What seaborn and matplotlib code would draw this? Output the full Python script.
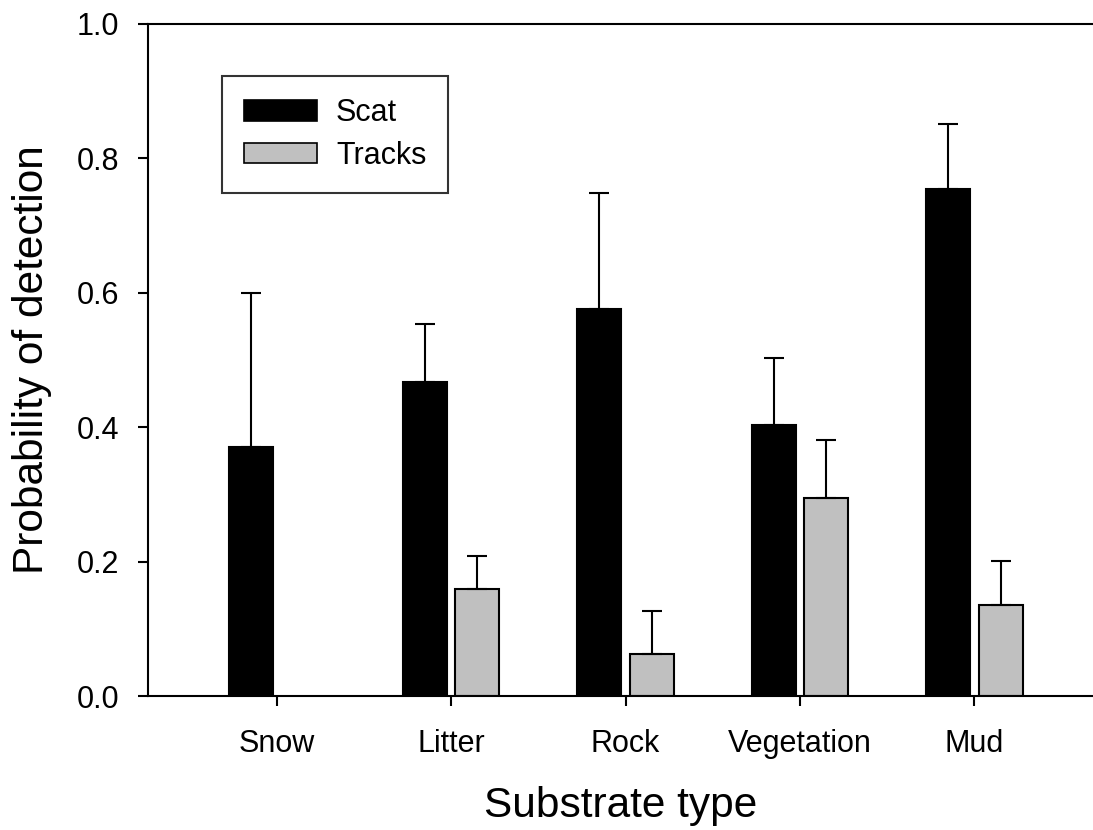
import numpy as np
import pandas as pd
import matplotlib
matplotlib.use("Agg")
import matplotlib.pyplot as plt
from matplotlib.patches import Patch
from matplotlib.container import BarContainer
import seaborn as sns

# values
substrates = ["Snow", "Litter", "Rock", "Vegetation", "Mud"]
scat = [0.371, 0.468, 0.576, 0.404, 0.754]
tracks = [np.nan, 0.160, 0.063, 0.295, 0.136]
scat_upper = [0.599, 0.553, 0.748, 0.503, 0.851]
tracks_upper = [np.nan, 0.208, 0.126, 0.381, 0.201]
sign_types = ["Scat", "Tracks"]
colors = {"Scat": "#000000", "Tracks": "#c0c0c0"}


def main():
    df = pd.DataFrame({
        "substrate": substrates * 2,
        "sign": ["Scat"] * len(substrates) + ["Tracks"] * len(substrates),
        "prob": scat + tracks,
        "upper": scat_upper + tracks_upper,
    }).dropna()

    sns.set_style("ticks")
    plt.rcParams["font.family"] = ["Liberation Sans", "DejaVu Sans"]
    plt.rcParams["text.color"] = "black"
    plt.rcParams["axes.labelcolor"] = "black"
    plt.rcParams["xtick.color"] = "black"
    plt.rcParams["ytick.color"] = "black"

    fig = plt.figure(figsize=(10.93, 8.30), dpi=100)
    ax = fig.add_axes([0.1354, 0.1614, 0.8646, 0.8097])

    sns.barplot(data=df, x="substrate", y="prob", hue="sign",
                order=substrates, hue_order=sign_types, palette=colors,
                width=0.6, gap=0.16, errorbar=None, legend=False,
                edgecolor="black", linewidth=1.5, ax=ax)

    # one-sided error bars (upper only), placed on each drawn bar
    bar_containers = [c for c in ax.containers if isinstance(c, BarContainer)]
    for hue_idx, container in enumerate(bar_containers):
        sign = sign_types[hue_idx]
        for bar in container:
            xc = bar.get_x() + bar.get_width() / 2
            cat = substrates[int(round(xc))]
            row = df[(df["substrate"] == cat) & (df["sign"] == sign)]
            if row.empty:
                continue
            h = row["prob"].iloc[0]
            up = row["upper"].iloc[0] - h
            ax.errorbar(xc, h, yerr=[[0], [up]], fmt="none", ecolor="black",
                        elinewidth=1.5, capsize=7.2, capthick=1.5, zorder=1)

    ax.set_xlim(-0.738, 4.68)
    ax.set_ylim(0, 1.0)
    ax.set_yticks(np.arange(0, 1.01, 0.2))
    ax.set_yticklabels([f"{v:.1f}" for v in np.arange(0, 1.01, 0.2)])

    ax.set_xlabel("Substrate type", fontsize=30.5, labelpad=20)
    ax.set_ylabel("Probability of detection", fontsize=30.5, labelpad=18)
    ax.tick_params(axis="both", direction="out", length=7.5, width=1.5,
                   labelsize=22)
    ax.tick_params(axis="x", pad=16)
    ax.tick_params(axis="y", pad=13)

    for side in ["left", "bottom", "top"]:
        ax.spines[side].set_visible(True)
        ax.spines[side].set_linewidth(1.5)
        ax.spines[side].set_color("black")
    ax.spines["right"].set_visible(False)

    handles = [Patch(facecolor=colors[s], edgecolor="black", linewidth=1.2, label=s)
               for s in sign_types]
    leg = ax.legend(handles=handles, loc="upper left",
                    bbox_to_anchor=(0.0783, 0.9226), fontsize=22,
                    frameon=True, fancybox=False, edgecolor="black",
                    handlelength=2.39, handleheight=0.655, handletextpad=0.62,
                    labelspacing=0.42, borderpad=0.72, borderaxespad=0)
    leg.get_frame().set_linewidth(1.5)

    fig.savefig("out.png", dpi=100)


if __name__ == "__main__":
    main()
